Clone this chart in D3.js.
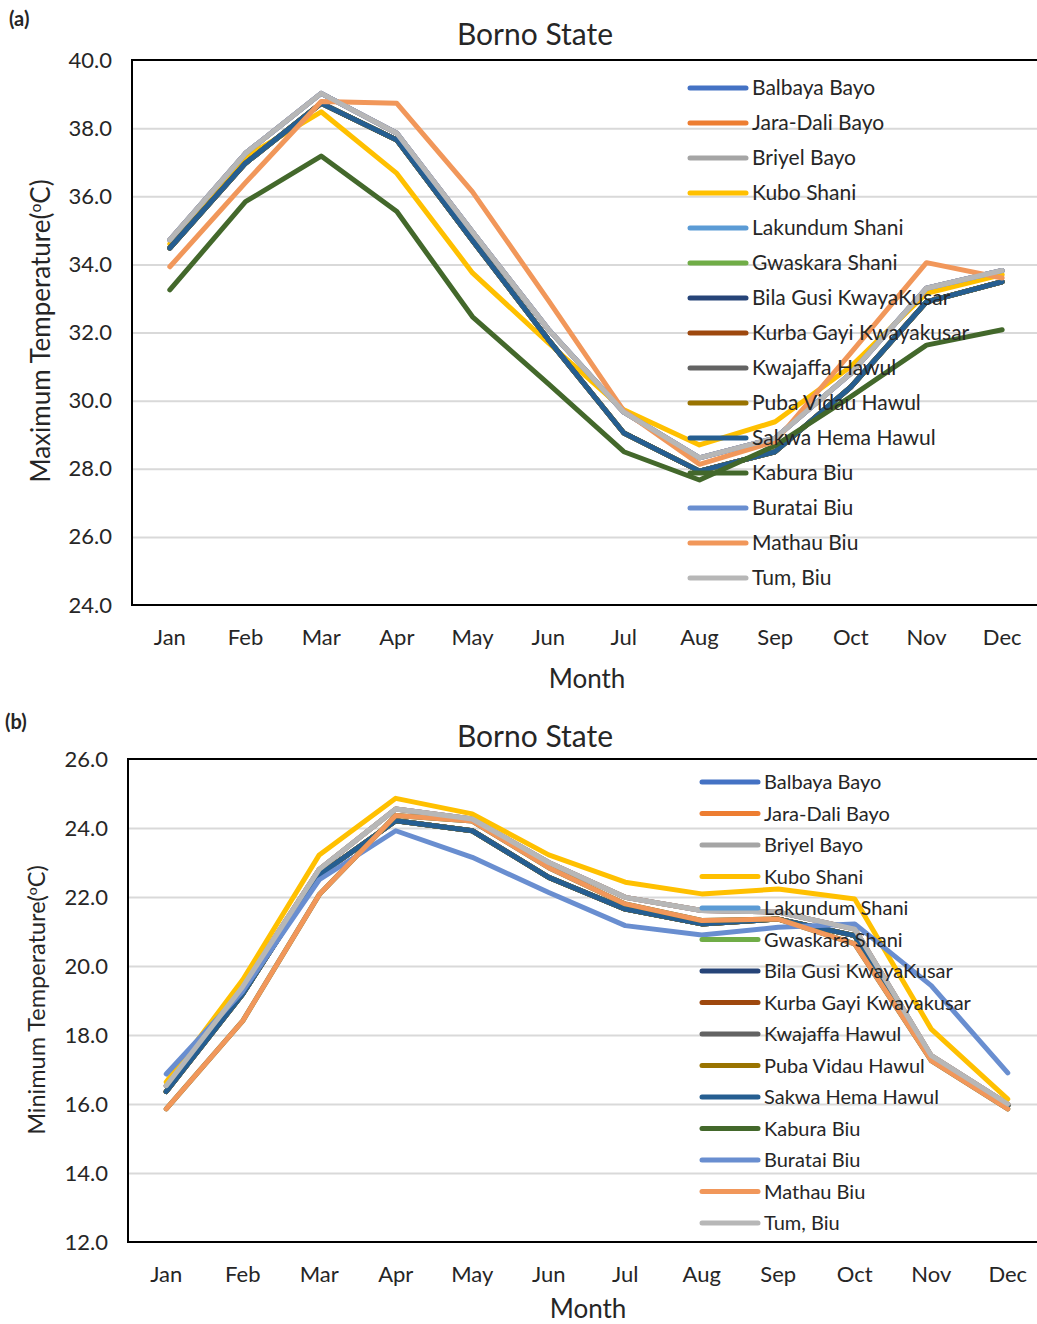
<html><head>
<meta charset="utf-8">
<script src="https://d3js.org/d3.v7.min.js"></script>
<title>Borno State temperature</title>
<style>
  body { margin: 0; background: #fff; }
  svg text { font-family: Lato, "Open Sans", sans-serif; fill: #262626; }
  .grid line { stroke: #d9d9d9; stroke-width: 2; }
  .grid path { display: none; }
</style>
</head><body>
<script>
"use strict";

var months = ["Jan", "Feb", "Mar", "Apr", "May", "Jun", "Jul", "Aug", "Sep", "Oct", "Nov", "Dec"];

var stations = ["Balbaya Bayo", "Jara-Dali Bayo", "Briyel Bayo", "Kubo Shani", "Lakundum Shani",
  "Gwaskara Shani", "Bila Gusi KwayaKusar", "Kurba Gayi Kwayakusar", "Kwajaffa Hawul",
  "Puba Vidau Hawul", "Sakwa Hema Hawul", "Kabura Biu", "Buratai Biu", "Mathau Biu", "Tum, Biu"];

var colors = ["#4472C4", "#ED7D31", "#A5A5A5", "#FFC000", "#5B9BD5", "#70AD47", "#264478",
  "#9E480E", "#636363", "#997300", "#255E91", "#43682B", "#698ED0", "#F1975A", "#B7B7B7"];

// (a) maximum temperature, one array per station (same order as stations)
var tmaxBalbaya  = [34.72, 37.26, 39.02, 37.85, 34.95, 32.1, 29.66, 28.32, 28.9, 30.8, 33.3, 33.82];
var tmaxJaraDali = [34.72, 37.26, 39.02, 37.85, 34.95, 32.1, 29.66, 28.32, 28.9, 30.8, 33.3, 33.82];
var tmaxBriyel   = [34.72, 37.26, 39.02, 37.85, 34.95, 32.1, 29.66, 28.32, 28.9, 30.8, 33.3, 33.82];
var tmaxKubo     = [34.6, 37.15, 38.48, 36.67, 33.75, 31.7, 29.73, 28.7, 29.38, 31.0, 33.15, 33.7];
var tmaxLakundum = [34.48, 36.97, 38.73, 37.65, 34.7, 31.8, 29.05, 27.93, 28.5, 30.4, 32.9, 33.49];
var tmaxGwaskara = [34.48, 36.97, 38.73, 37.65, 34.7, 31.8, 29.05, 27.93, 28.5, 30.4, 32.9, 33.49];
var tmaxBilaGusi = [34.48, 36.97, 38.73, 37.65, 34.7, 31.8, 29.05, 27.93, 28.5, 30.4, 32.9, 33.49];
var tmaxKurbaGayi = [34.48, 36.97, 38.73, 37.65, 34.7, 31.8, 29.05, 27.93, 28.5, 30.4, 32.9, 33.49];
var tmaxKwajaffa = [34.48, 36.97, 38.73, 37.65, 34.7, 31.8, 29.05, 27.93, 28.5, 30.4, 32.9, 33.49];
var tmaxPubaVidau = [34.48, 36.97, 38.73, 37.65, 34.7, 31.8, 29.05, 27.93, 28.5, 30.4, 32.9, 33.49];
var tmaxSakwaHema = [34.48, 36.97, 38.73, 37.65, 34.7, 31.8, 29.05, 27.93, 28.5, 30.4, 32.9, 33.49];
var tmaxKabura   = [33.25, 35.84, 37.18, 35.55, 32.46, 30.5, 28.5, 27.67, 28.68, 30.12, 31.63, 32.08];
var tmaxBuratai  = [34.72, 37.26, 39.02, 37.85, 34.95, 32.1, 29.66, 28.32, 28.9, 30.8, 33.3, 33.82];
var tmaxMathau   = [33.93, 36.4, 38.78, 38.73, 36.13, 32.95, 29.7, 28.13, 28.8, 31.4, 34.05, 33.6];
var tmaxTum      = [34.72, 37.26, 39.02, 37.85, 34.95, 32.1, 29.66, 28.32, 28.9, 30.8, 33.3, 33.82];

// (b) minimum temperature
var tminBalbaya  = [16.53, 19.4, 22.8, 24.55, 24.26, 23.0, 21.99, 21.61, 21.56, 21.07, 17.4, 16.0];
var tminJaraDali = [16.53, 19.4, 22.8, 24.55, 24.26, 23.0, 21.99, 21.61, 21.56, 21.07, 17.4, 16.0];
var tminBriyel   = [16.53, 19.4, 22.8, 24.55, 24.26, 23.0, 21.99, 21.61, 21.56, 21.07, 17.4, 16.0];
var tminKubo     = [16.64, 19.6, 23.22, 24.86, 24.41, 23.22, 22.43, 22.09, 22.23, 21.94, 18.17, 16.14];
var tminLakundum = [16.36, 19.19, 22.64, 24.21, 23.92, 22.57, 21.65, 21.22, 21.36, 20.88, 17.3, 15.95];
var tminGwaskara = [16.36, 19.19, 22.64, 24.21, 23.92, 22.57, 21.65, 21.22, 21.36, 20.88, 17.3, 15.95];
var tminBilaGusi = [16.36, 19.19, 22.64, 24.21, 23.92, 22.57, 21.65, 21.22, 21.36, 20.88, 17.3, 15.95];
var tminKurbaGayi = [16.36, 19.19, 22.64, 24.21, 23.92, 22.57, 21.65, 21.22, 21.36, 20.88, 17.3, 15.95];
var tminKwajaffa = [16.36, 19.19, 22.64, 24.21, 23.92, 22.57, 21.65, 21.22, 21.36, 20.88, 17.3, 15.95];
var tminPubaVidau = [16.36, 19.19, 22.64, 24.21, 23.92, 22.57, 21.65, 21.22, 21.36, 20.88, 17.3, 15.95];
var tminSakwaHema = [16.36, 19.19, 22.64, 24.21, 23.92, 22.57, 21.65, 21.22, 21.36, 20.88, 17.3, 15.95];
var tminKabura   = [15.86, 18.41, 22.07, 24.36, 24.2, 22.85, 21.8, 21.32, 21.36, 20.64, 17.26, 15.86];
var tminBuratai  = [16.87, 19.27, 22.5, 23.92, 23.15, 22.13, 21.17, 20.9, 21.12, 21.22, 19.43, 16.9];
var tminMathau   = [15.86, 18.41, 22.07, 24.36, 24.2, 22.85, 21.8, 21.32, 21.36, 20.64, 17.26, 15.86];
var tminTum      = [16.53, 19.4, 22.8, 24.55, 24.26, 23.0, 21.99, 21.61, 21.56, 21.07, 17.4, 16.0];

var tmaxSeries = [tmaxBalbaya, tmaxJaraDali, tmaxBriyel, tmaxKubo, tmaxLakundum, tmaxGwaskara,
  tmaxBilaGusi, tmaxKurbaGayi, tmaxKwajaffa, tmaxPubaVidau, tmaxSakwaHema, tmaxKabura,
  tmaxBuratai, tmaxMathau, tmaxTum];
var tminSeries = [tminBalbaya, tminJaraDali, tminBriyel, tminKubo, tminLakundum, tminGwaskara,
  tminBilaGusi, tminKurbaGayi, tminKwajaffa, tminPubaVidau, tminSakwaHema, tminKabura,
  tminBuratai, tminMathau, tminTum];

var maxTicks = [24, 26, 28, 30, 32, 34, 36, 38, 40];
var minTicks = [12, 14, 16, 18, 20, 22, 24, 26];

var svg = d3.select("body").append("svg")
    .attr("width", 1037)
    .attr("height", 1324);

function drawPanel(p) {
    var x = d3.scaleBand().domain(months).range([p.left, p.right]).padding(0);
    var y = d3.scaleLinear().domain([p.ticks[0], p.ticks[p.ticks.length - 1]]).range([p.bottom, p.top]);
    var g = svg.append("g");

    // gridlines
    g.append("g")
        .attr("class", "grid")
        .attr("transform", "translate(" + p.left + ",0)")
        .call(d3.axisLeft(y).tickValues(p.ticks.slice(1, -1)).tickSize(-(p.right - p.left)).tickFormat(""));

    // y tick labels
    var ya = g.append("g")
        .attr("transform", "translate(" + p.left + ",0)")
        .call(d3.axisLeft(y).tickValues(p.ticks).tickSize(0).tickPadding(p.yPad).tickFormat(d3.format(".1f")));
    ya.select(".domain").remove();
    ya.selectAll("text").style("font-size", p.tickSize + "px").style("font-family", null);

    // month labels
    var xa = g.append("g")
        .attr("transform", "translate(0," + p.bottom + ")")
        .call(d3.axisBottom(x).tickSize(0).tickPadding(p.xPad));
    xa.select(".domain").remove();
    xa.selectAll("text").style("font-size", p.tickSize + "px").style("font-family", null);

    // series lines
    var line = d3.line()
        .x(function(d, i) { return x(months[i]) + x.bandwidth() / 2; })
        .y(function(d) { return y(d); });

    g.selectAll(".series")
        .data(p.series)
        .enter().append("path")
        .attr("class", "series")
        .attr("d", line)
        .attr("fill", "none")
        .attr("stroke", function(d, i) { return colors[i]; })
        .attr("stroke-width", 5)
        .attr("stroke-linejoin", "round")
        .attr("stroke-linecap", "round");

    // plot frame
    g.append("rect")
        .attr("x", p.left).attr("y", p.top)
        .attr("width", p.right - p.left).attr("height", p.bottom - p.top)
        .attr("fill", "none").attr("stroke", "#000").attr("stroke-width", 2);

    // legend
    var lg = g.selectAll(".legend")
        .data(stations)
        .enter().append("g")
        .attr("transform", function(d, i) { return "translate(" + p.legX + "," + (p.legY + i * p.legStep) + ")"; });
    lg.append("line")
        .attr("x1", 0).attr("x2", 56)
        .attr("stroke", function(d, i) { return colors[i]; })
        .attr("stroke-width", 5)
        .attr("stroke-linecap", "round");
    lg.append("text")
        .attr("x", 62).attr("dy", "0.35em")
        .style("font-size", p.legSize + "px")
        .text(function(d) { return d; });

    // titles
    svg.append("text")
        .attr("x", 535).attr("y", p.titleY)
        .attr("text-anchor", "middle")
        .style("font-size", "30px")
        .text("Borno State");
    svg.append("text")
        .attr("x", p.monthX).attr("y", p.monthY)
        .attr("text-anchor", "middle")
        .style("font-size", "26px")
        .text("Month");
    svg.append("text")
        .attr("x", p.panelX).attr("y", p.panelY)
        .style("font-size", "20px").style("font-weight", "bold")
        .text(p.panel);

    var yt = svg.append("text")
        .attr("transform", "translate(" + p.yTitleX + "," + p.yTitleY + ") rotate(-90)")
        .attr("text-anchor", "middle")
        .style("font-size", p.yTitleSize + "px");
    yt.append("tspan").text(p.yTitle + "(");
    yt.append("tspan").attr("baseline-shift", "super").style("font-size", "0.6em").text("o");
    yt.append("tspan").text("C)");
}

drawPanel({
    panel: "(a)", panelX: 9, panelY: 26,
    left: 132, right: 1040, top: 60, bottom: 605,
    ticks: maxTicks, series: tmaxSeries,
    yPad: 20, xPad: 24, tickSize: 22,
    legX: 690, legY: 88, legStep: 35, legSize: 21,
    titleY: 45, monthX: 587, monthY: 688,
    yTitle: "Maximum Temperature", yTitleX: 50, yTitleY: 331, yTitleSize: 26
});

drawPanel({
    panel: "(b)", panelX: 5, panelY: 729,
    left: 128, right: 1046, top: 759, bottom: 1242,
    ticks: minTicks, series: tminSeries,
    yPad: 20, xPad: 24, tickSize: 22,
    legX: 702, legY: 782, legStep: 31.5, legSize: 20,
    titleY: 747, monthX: 588, monthY: 1318,
    yTitle: "Minimum Temperature", yTitleX: 45, yTitleY: 1000, yTitleSize: 23.5
});
</script>
</body></html>
